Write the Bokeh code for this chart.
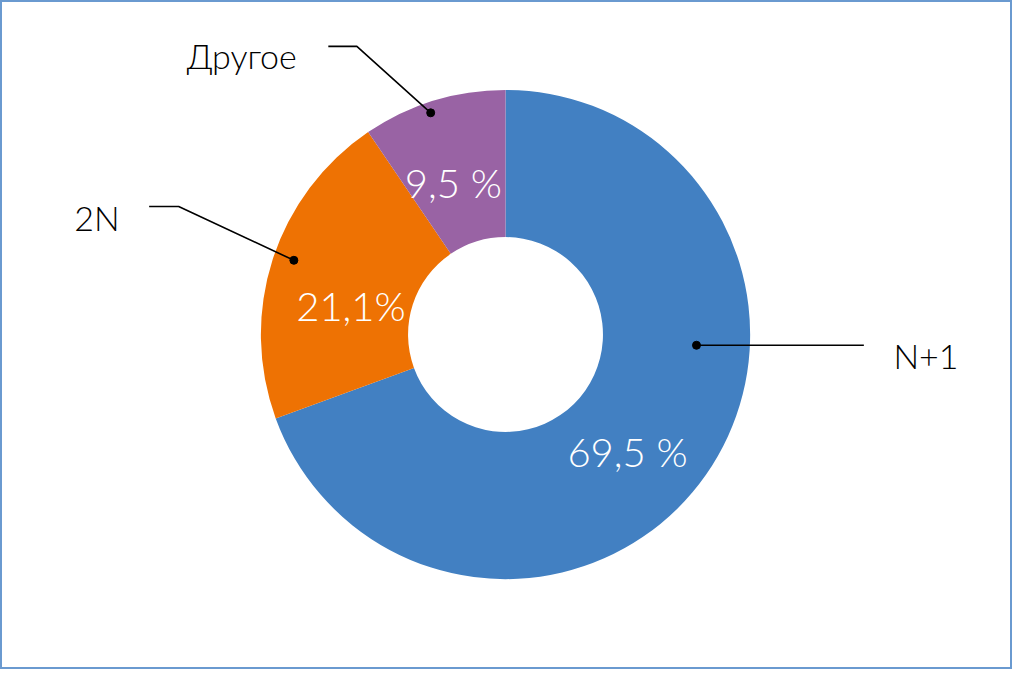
from bokeh.plotting import figure
from bokeh.models import Range1d
from bokeh.core.properties import value
from bokeh.embed import file_html
from bokeh.resources import INLINE
import math

# ---- data ----
categories = ["N+1", "2N", "Другое"]
values = [69.5, 21.1, 9.5]
pct_labels = ["69,5 %", "21,1%", "9,5 %"]
colors = ["#4280C2", "#EE7203", "#9963A4"]

W, H = 1012, 669
p = figure(width=W, height=H, x_range=Range1d(0, 1028), y_range=Range1d(0, 685),
           x_axis_type=None, y_axis_type=None, toolbar_location=None,
           output_backend="svg", min_border=0)
p.grid.visible = False
p.outline_line_color = "#6A9AD0"
p.outline_line_width = 3
p.background_fill_color = "white"
p.border_fill_color = "white"

FONT = value("Lato Light, Lato")

def Y(y):
    return 685 - y

cx, cy = 513, Y(342)
r_in, r_out = 99, 248.5

total = sum(values)
a = math.pi / 2
starts, ends = [], []
for v in values:
    sweep = v / total * 2 * math.pi
    starts.append(a)
    ends.append(a - sweep)
    a -= sweep

p.annular_wedge(x=[cx] * 3, y=[cy] * 3, inner_radius=r_in, outer_radius=r_out,
                start_angle=starts, end_angle=ends, direction="clock",
                fill_color=colors, line_color=None)

# percent labels (reference pixel positions, baseline)
pct_pos = [(637, 462), (356, 313), (460, 187)]
p.text(x=[q[0] for q in pct_pos], y=[Y(q[1]) for q in pct_pos], text=pct_labels,
       text_align="center", text_baseline="alphabetic", text_color="white",
       text_font=FONT, text_font_size="40px")

# leader lines
leaders = [
    [(707, 353), (877, 353)],
    [(298, 266), (181, 211), (151, 211)],
    [(437, 115), (362, 47), (333, 47)],
]
p.multi_line(xs=[[q[0] for q in l] for l in leaders],
             ys=[[Y(q[1]) for q in l] for l in leaders],
             line_color="black", line_width=1.6)
p.scatter(x=[l[0][0] for l in leaders], y=[Y(l[0][1]) for l in leaders],
          size=8, color="black")

# category labels
p.text(x=[907], y=[Y(363)], text=[categories[0]], text_align="left",
       text_baseline="alphabetic", text_color="black",
       text_font=FONT, text_font_size="34px")
p.text(x=[121, 301], y=[Y(222), Y(56)], text=[categories[1], categories[2]],
       text_align="right", text_baseline="alphabetic", text_color="black",
       text_font=FONT, text_font_size="34px")

open("out.html", "w").write(file_html(p, INLINE))
